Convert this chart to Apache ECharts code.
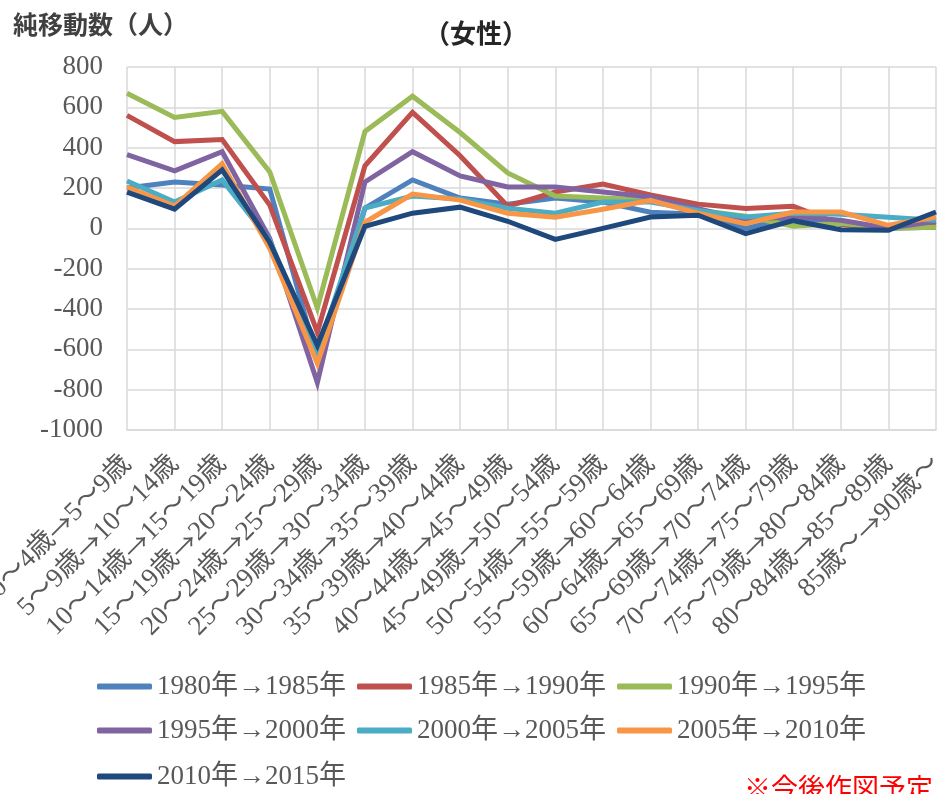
<!DOCTYPE html>
<html>
<head>
<meta charset="utf-8">
<script src="https://cdn.jsdelivr.net/npm/echarts@6/dist/echarts.min.js"></script>
<style>
html,body{margin:0;padding:0;background:#fff;}
#chart{width:938px;height:794px;}
</style>
</head>
<body>
<div id="chart"></div>
<script>
const categories = ["0～4歳→5～9歳","5～9歳→10～14歳","10～14歳→15～19歳","15～19歳→20～24歳","20～24歳→25～29歳","25～29歳→30～34歳","30～34歳→35～39歳","35～39歳→40～44歳","40～44歳→45～49歳","45～49歳→50～54歳","50～54歳→55～59歳","55～59歳→60～64歳","60～64歳→65～69歳","65～69歳→70～74歳","70～74歳→75～79歳","75～79歳→80～84歳","80～84歳→85～89歳","85歳～→90歳～"];

const seriesNames = ["1980年→1985年","1985年→1990年","1990年→1995年","1995年→2000年","2000年→2005年","2005年→2010年","2010年→2015年"];

const s1980 = [200, 230, 215, 195, -650, 100, 240, 150, 120, 150, 130, 80, 70, 0, 56, 20, 0, 5];
const s1985 = [560, 430, 440, 115, -515, 310, 575, 360, 110, 180, 220, 165, 120, 98, 110, 20, 0, 20];
const s1990 = [670, 550, 580, 280, -395, 480, 655, 475, 275, 160, 150, 140, 90, 60, 10, 25, 0, 5];
const s1995 = [365, 285, 380, -50, -765, 230, 380, 260, 205, 205, 180, 155, 98, 40, 60, 40, 0, 35];
const s2000 = [235, 130, 240, -60, -614, 100, 160, 145, 100, 75, 130, 131, 89, 56, 75, 70, 55, 40];
const s2005 = [205, 110, 320, -100, -670, 30, 170, 140, 75, 55, 95, 139, 75, 23, 81, 81, 15, 56];
const s2010 = [180, 95, 290, -70, -581, 10, 75, 105, 35, -55, 0, 56, 65, -26, 38, -7, -10, 81];

const yMin = -1000, yMax = 800, yStep = 200;

const colors = ["#4F81BD","#C0504D","#9BBB59","#8064A2","#4BACC6","#F79646","#1F497D"];
const allData = [s1980, s1985, s1990, s1995, s2000, s2005, s2010];

const serifFont = "'Liberation Serif','Noto Sans CJK JP',serif";
const sansFont = "'Noto Sans CJK JP',sans-serif";

const chart = echarts.init(document.getElementById('chart'));

const legendCols = [97, 357, 617];
const legendRows = [673, 717, 763];

const legends = seriesNames.map((n, i) => ({
  data: [n],
  left: legendCols[i % 3],
  top: legendRows[Math.floor(i / 3)],
  padding: 0,
  icon: 'roundRect',
  itemWidth: 55,
  itemHeight: 6,
  itemGap: 0,
  selectedMode: false,
  textStyle: {fontFamily: serifFont, fontSize: 27, color: '#595959'}
}));

const option = {
  animation: false,
  backgroundColor: '#fff',
  title: {
    text: '（女性）',
    left: 419,
    top: 15,
    textStyle: {fontFamily: sansFont, fontSize: 26, fontWeight: 'bold', color: '#262626'}
  },
  graphic: [
    {type: 'text', left: 13, top: 12, style: {text: '純移動数（人）', font: "bold 25px 'Noto Sans CJK JP'", fill: '#404040'}},
    {type: 'text', left: 744, top: 774, style: {text: '※今後作図予定', font: "27px 'Noto Sans CJK JP'", fill: '#FF0000'}}
  ],
  legend: legends,
  grid: {left: 127, right: 2, top: 67, bottom: 364, containLabel: false, outerBoundsMode: 'none'},
  xAxis: {
    type: 'category',
    data: categories,
    boundaryGap: false,
    axisLine: {show: true, onZero: false, lineStyle: {color: '#d9d9d9', width: 1.5}},
    axisTick: {show: false},
    splitLine: {show: true, lineStyle: {color: '#d9d9d9', width: 1.5}},
    axisLabel: {
      rotate: 45, margin: 30, interval: 0,
      fontFamily: serifFont, fontSize: 27, color: '#595959',
      formatter: v => v.split('→').join('{a|→}'),
      rich: {a: {fontFamily: sansFont, fontSize: 26, color: '#595959'}}
    }
  },
  yAxis: {
    type: 'value',
    min: yMin, max: yMax, interval: yStep,
    axisLine: {show: false},
    axisTick: {show: false},
    splitLine: {show: true, lineStyle: {color: '#d9d9d9', width: 1.5}},
    axisLabel: {margin: 24, fontFamily: serifFont, fontSize: 27, color: '#595959', formatter: v => String(v)}
  },
  series: seriesNames.map((n, i) => ({
    name: n,
    type: 'line',
    data: allData[i],
    symbol: 'none',
    color: colors[i],
    lineStyle: {width: 5, color: colors[i], join: 'miter'}
  }))
};
chart.setOption(option);
</script>
</body>
</html>
